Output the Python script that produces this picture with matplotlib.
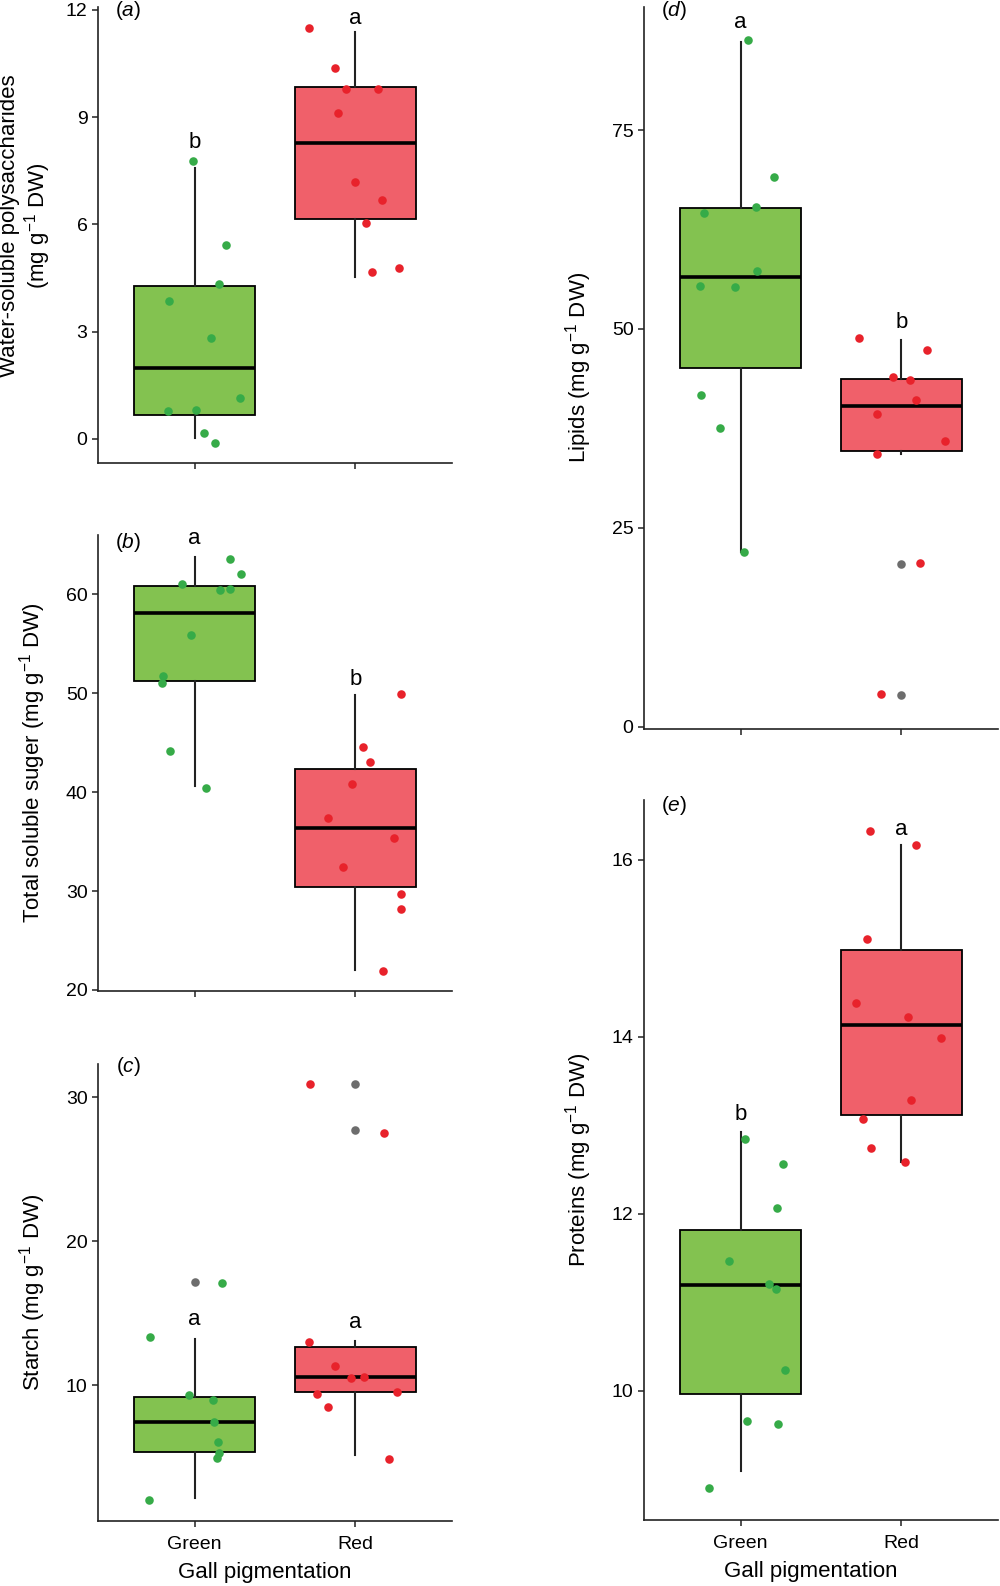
import matplotlib.pyplot as plt

plt.rcParams['font.family'] = 'Liberation Sans'
plt.rcParams['mathtext.fontset'] = 'custom'
plt.rcParams['mathtext.rm'] = 'Liberation Sans'
plt.rcParams['mathtext.it'] = 'Liberation Sans:italic'

groups = ['Green', 'Red']
unit = r'(mg g$^{-1}$ DW)'

# (a) Water-soluble polysaccharides
a_green_x = [0.99, 1.196, 1.15, 0.84, 1.10, 1.28, 0.835, 1.01, 1.06, 1.13]
a_green_y = [7.77, 5.42, 4.34, 3.87, 2.83, 1.14, 0.78, 0.80, 0.17, -0.11]
a_red_x = [1.714, 1.875, 1.943, 2.138, 1.893, 1.998, 2.167, 2.068, 2.10, 2.27]
a_red_y = [11.5, 10.38, 9.78, 9.78, 9.12, 7.18, 6.69, 6.05, 4.68, 4.79]
# q1, median, q3, lower whisker, upper whisker
a_box = [(0.66, 1.98, 4.28, 0.04, 7.57), (6.15, 8.28, 9.85, 4.54, 11.37)]
a_out = [[], []]
a_letters = ['b', 'a']
a_letter_y = [8.28, 11.77]

# (b) Total soluble sugar
b_green_x = [1.22, 1.29, 0.92, 1.156, 1.22, 0.977, 0.807, 0.80, 0.85, 1.07]
b_green_y = [63.6, 62.1, 61.0, 60.4, 60.5, 55.9, 51.7, 51.0, 44.2, 40.4]
b_red_x = [2.284, 2.05, 2.09, 1.98, 1.83, 2.24, 1.92, 2.28, 2.284, 2.17]
b_red_y = [49.9, 44.6, 43.0, 40.8, 37.4, 35.4, 32.4, 29.7, 28.2, 21.9]
b_box = [(51.2, 58.1, 60.8, 40.6, 63.8), (30.4, 36.4, 42.3, 22.0, 49.8)]
b_out = [[], []]
b_letters = ['a', 'b']
b_letter_y = [65.6, 51.4]

# (c) Starch
c_green_x = [1.17, 0.724, 0.963, 1.113, 1.123, 1.144, 1.154, 1.138, 0.716]
c_green_y = [17.07, 13.33, 9.31, 8.99, 7.46, 6.06, 5.32, 4.97, 2.04]
c_red_x = [1.72, 2.18, 1.714, 1.872, 1.975, 2.056, 1.76, 2.26, 1.83, 2.21]
c_red_y = [30.92, 27.5, 13.0, 11.3, 10.47, 10.57, 9.36, 9.56, 8.45, 4.88]
c_box = [(5.37, 7.41, 9.16, 2.17, 13.2), (9.53, 10.57, 12.64, 5.12, 13.08)]
c_out = [[17.17], [30.9, 27.7]]
c_letters = ['a', 'a']
c_letter_y = [14.53, 14.34]

# (d) Lipids
d_green_x = [1.045, 1.206, 1.097, 0.775, 1.105, 0.748, 0.967, 0.755, 0.87, 1.02]
d_green_y = [86.3, 69.1, 65.4, 64.6, 57.3, 55.4, 55.3, 41.7, 37.6, 21.9]
d_red_x = [1.736, 2.159, 1.95, 2.05, 2.09, 1.85, 2.27, 1.845, 2.115, 1.874]
d_red_y = [48.9, 47.4, 43.9, 43.6, 41.1, 39.3, 35.9, 34.3, 20.6, 4.15]
d_box = [(45.1, 56.5, 65.2, 21.9, 86.1), (34.6, 40.3, 43.7, 34.3, 48.6)]
d_out = [[], [20.4, 3.97]]
d_letters = ['a', 'b']
d_letter_y = [88.6, 50.8]

# (e) Proteins
e_green_x = [1.025, 1.264, 1.227, 0.93, 1.177, 1.223, 1.274, 1.041, 1.235, 0.804]
e_green_y = [12.84, 12.56, 12.07, 11.47, 11.21, 11.15, 10.23, 9.66, 9.62, 8.90]
e_red_x = [1.806, 2.09, 1.785, 1.72, 2.04, 2.247, 2.06, 1.76, 1.81, 2.025]
e_red_y = [16.32, 16.17, 15.10, 14.38, 14.22, 13.98, 13.29, 13.07, 12.74, 12.58]
e_box = [(9.965, 11.20, 11.82, 9.09, 12.92), (13.12, 14.13, 14.98, 12.58, 16.17)]
e_out = [[], []]
e_letters = ['b', 'a']
e_letter_y = [13.12, 16.34]

box_fill = ['#83c250', '#f0606a']
dot_col = ['#36ab48', '#e8222b']
ink = '#222222'

fig = plt.figure(figsize=(10, 15.86), dpi=100)


def panel(rect, tag, gx, gy, rx, ry, box, out, letters, letter_y,
          ylim, yticks, ylabel, tag_y, show_x, label_x=-0.142, label_y=0.5):
    ax = fig.add_axes(rect)
    stats = []
    for q1, med, q3, lo, hi in box:
        stats.append(dict(q1=q1, med=med, q3=q3, whislo=lo, whishi=hi, fliers=[]))
    bp = ax.bxp(stats, positions=[1, 2], widths=0.75, patch_artist=True,
                showcaps=False, showfliers=False,
                boxprops=dict(edgecolor='black', linewidth=1.3),
                medianprops=dict(color='black', linewidth=2.6),
                whiskerprops=dict(color=ink, linewidth=1.5))
    for patch, c in zip(bp['boxes'], box_fill):
        patch.set_facecolor(c)
    # boxplot outliers (grey)
    for i, ys in enumerate(out):
        ax.scatter([i + 1] * len(ys), ys, s=38, color='#6d6d6d', zorder=3,
                   linewidths=0)
    # jittered samples
    ax.scatter(gx, gy, s=38, color=dot_col[0], zorder=4, linewidths=0)
    ax.scatter(rx, ry, s=38, color=dot_col[1], zorder=4, linewidths=0)
    for i, (lab, y) in enumerate(zip(letters, letter_y)):
        ax.text(i + 1, y, lab, ha='center', va='center', fontsize=16, color='black')
    ax.text(0.085, tag_y, '(' + r'$\it{' + tag + '}$' + ')', transform=ax.transAxes,
            ha='center', va='center', fontsize=15)
    ax.set_xlim(0.4, 2.6)
    ax.set_ylim(*ylim)
    ax.set_yticks(yticks)
    ax.set_xticks([1, 2])
    if show_x:
        ax.set_xticklabels(groups)
        ax.set_xlabel('Gall pigmentation', fontsize=16, labelpad=7)
        ax.xaxis.label.set_x(0.472)
    else:
        ax.set_xticklabels([])
    ax.set_ylabel(ylabel, fontsize=16, linespacing=1.1)
    ax.yaxis.set_label_coords(label_x, label_y)
    for s in ['top', 'right']:
        ax.spines[s].set_visible(False)
    for s in ['left', 'bottom']:
        ax.spines[s].set_linewidth(1.2)
        ax.spines[s].set_color(ink)
    ax.tick_params(direction='out', length=4.5, width=1.1, color=ink,
                   labelsize=14, labelcolor='black', pad=3)
    ax.tick_params(axis='x', pad=6)
    return ax


panel([0.098, 0.7081, 0.354, 0.2875], 'a', a_green_x, a_green_y, a_red_x, a_red_y,
      a_box, a_out, a_letters, a_letter_y, (-0.67, 12.08), [0, 3, 6, 9, 12],
      'Water-soluble polysaccharides\n' + unit, 0.993, False,
      label_x=-0.128, label_y=0.52)
panel([0.098, 0.3752, 0.354, 0.2875], 'b', b_green_x, b_green_y, b_red_x, b_red_y,
      b_box, b_out, b_letters, b_letter_y, (19.9, 66.0), [20, 30, 40, 50, 60],
      'Total soluble suger ' + unit, 0.983, False)
panel([0.098, 0.0410, 0.354, 0.2881], 'c', c_green_x, c_green_y, c_red_x, c_red_y,
      c_box, c_out, c_letters, c_letter_y, (0.57, 32.3), [10, 20, 30],
      'Starch ' + unit, 0.994, True)
panel([0.644, 0.5404, 0.354, 0.4552], 'd', d_green_x, d_green_y, d_red_x, d_red_y,
      d_box, d_out, d_letters, d_letter_y, (-0.3, 90.5), [0, 25, 50, 75],
      'Lipids ' + unit, 0.995, False)
panel([0.644, 0.0416, 0.354, 0.4543], 'e', e_green_x, e_green_y, e_red_x, e_red_y,
      e_box, e_out, e_letters, e_letter_y, (8.54, 16.68), [10, 12, 14, 16],
      'Proteins ' + unit, 0.991, True)

fig.savefig('out.png', dpi=100)
